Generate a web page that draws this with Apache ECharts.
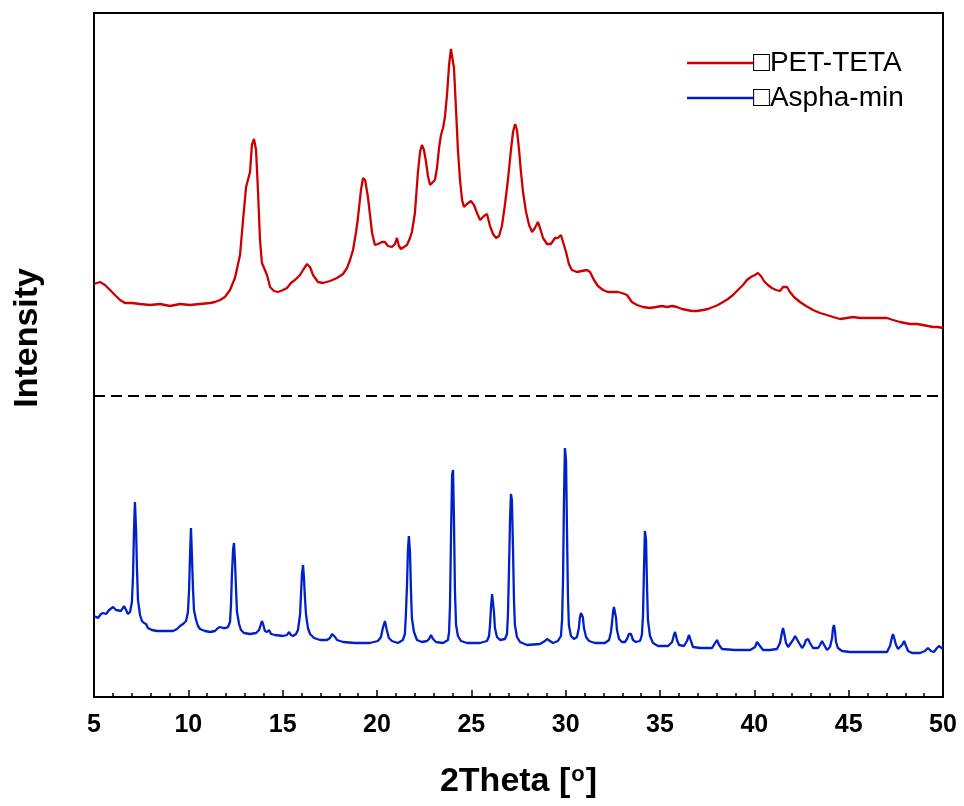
<!DOCTYPE html>
<html>
<head>
<meta charset="utf-8">
<script src="https://cdn.jsdelivr.net/npm/echarts@6/dist/echarts.min.js"></script>
<style>
  html, body { margin: 0; padding: 0; background: #fff; }
  #chart { width: 964px; height: 806px; }
</style>
</head>
<body>
<div id="chart"></div>
<script>
// XRD patterns: [2theta (deg), intensity (a.u., offset)]
const petTeta = [
  [5.00,413],[5.32,415],[5.58,412],[5.85,407],[6.11,402],[6.38,397],[6.64,394],[7.01,394],
  [7.44,393],[7.97,392],[8.50,393],[9.03,391],[9.56,393],[10.09,392],[10.62,393],[11.15,394],
  [11.41,395],[11.68,397],[11.94,400],[12.21,407],[12.47,419],[12.74,442],[12.90,477],[13.06,510],
  [13.16,509],[13.27,525],[13.37,552],[13.48,558],[13.59,547],[13.69,507],[13.80,457],[13.90,434],
  [14.06,427],[14.17,422],[14.33,410],[14.54,406],[14.75,405],[15.02,407],[15.23,409],[15.44,414],
  [15.65,417],[15.92,422],[16.08,427],[16.29,433],[16.45,430],[16.61,422],[16.87,415],[17.14,414],
  [17.51,416],[17.88,419],[18.20,423],[18.41,429],[18.57,437],[18.73,447],[18.89,465],[18.99,479],
  [19.15,507],[19.26,519],[19.37,517],[19.52,500],[19.63,482],[19.74,464],[19.89,452],[20.05,453],
  [20.26,455],[20.42,455],[20.58,451],[20.79,450],[20.95,453],[21.06,459],[21.16,451],[21.27,448],
  [21.43,450],[21.59,452],[21.75,459],[21.85,465],[22.01,484],[22.17,525],[22.28,545],[22.38,552],
  [22.49,547],[22.60,535],[22.70,521],[22.81,512],[22.91,511],[23.07,517],[23.18,529],[23.29,549],
  [23.39,562],[23.50,569],[23.60,580],[23.71,602],[23.82,632],[23.92,648],[23.98,647],[24.08,629],
  [24.19,587],[24.29,547],[24.40,517],[24.51,497],[24.61,490],[24.77,493],[24.98,496],[25.14,492],
  [25.30,484],[25.46,477],[25.67,481],[25.83,483],[25.99,471],[26.15,463],[26.31,459],[26.47,461],
  [26.62,471],[26.78,492],[26.94,517],[27.10,547],[27.21,565],[27.32,573],[27.42,567],[27.53,547],
  [27.63,525],[27.74,505],[27.90,485],[28.06,472],[28.22,465],[28.37,469],[28.53,475],[28.64,469],
  [28.80,459],[29.01,453],[29.22,453],[29.43,459],[29.59,459],[29.75,462],[29.86,455],[30.02,445],
  [30.17,433],[30.33,427],[30.60,425],[30.86,426],[31.13,427],[31.29,425],[31.50,417],[31.71,411],
  [31.98,407],[32.24,405],[32.51,405],[32.77,405],[32.98,404],[33.25,402],[33.51,395],[33.78,392],
  [34.10,390],[34.47,389],[34.79,390],[35.10,391],[35.37,390],[35.63,391],[35.90,390],[36.16,388],
  [36.43,387],[36.69,386],[36.96,386],[37.28,387],[37.54,388],[37.81,390],[38.07,392],[38.34,395],
  [38.60,398],[38.87,402],[39.13,407],[39.40,412],[39.61,417],[39.82,420],[40.03,422],[40.19,424],
  [40.35,421],[40.51,416],[40.72,412],[40.93,409],[41.15,407],[41.36,406],[41.52,410],[41.62,412],
  [41.73,410],[41.89,405],[42.10,400],[42.42,395],[42.74,391],[43.11,387],[43.48,384],[43.85,382],
  [44.17,380],[44.54,378],[44.91,379],[45.23,380],[45.60,379],[45.97,379],[46.29,379],[46.66,379],
  [47.03,379],[47.35,377],[47.72,375],[47.98,374],[48.25,373],[48.62,373],[48.94,372],[49.20,371],
  [49.47,370],[49.73,370],[50.00,369]
];

const asphaMin = [
  [5.00,81],[5.21,79],[5.37,83],[5.48,84],[5.64,83],[5.80,87],[6.01,90],[6.17,87],[6.27,85],
  [6.43,86],[6.59,91],[6.70,87],[6.80,83],[6.91,85],[7.01,95],[7.07,122],[7.12,167],[7.17,195],
  [7.23,167],[7.28,127],[7.33,97],[7.44,82],[7.54,76],[7.65,74],[7.76,73],[7.86,69],[8.07,67],
  [8.34,66],[8.76,66],[9.19,66],[9.40,68],[9.56,71],[9.72,73],[9.88,76],[9.98,85],[10.04,107],
  [10.09,142],[10.14,169],[10.19,142],[10.25,107],[10.30,87],[10.41,77],[10.51,71],[10.62,68],
  [10.88,66],[11.15,65],[11.41,66],[11.57,69],[11.68,70],[11.84,69],[11.99,69],[12.10,70],
  [12.21,75],[12.26,92],[12.31,122],[12.37,147],[12.42,154],[12.47,137],[12.53,107],[12.58,85],
  [12.69,73],[12.79,67],[12.95,64],[13.27,63],[13.59,64],[13.75,67],[13.85,73],[13.90,76],
  [13.96,73],[14.06,66],[14.17,65],[14.28,67],[14.38,63],[14.59,62],[15.02,61],[15.23,62],
  [15.33,65],[15.44,62],[15.55,61],[15.71,63],[15.81,67],[15.92,82],[15.97,102],[16.02,122],
  [16.08,132],[16.13,119],[16.18,99],[16.24,82],[16.34,69],[16.45,63],[16.66,59],[16.98,57],
  [17.35,57],[17.51,59],[17.62,63],[17.67,64],[17.78,60],[17.88,57],[18.20,55],[18.83,54],
  [19.62,54],[20.05,56],[20.21,60],[20.31,69],[20.42,76],[20.52,67],[20.63,59],[20.79,56],
  [21.11,54],[21.37,57],[21.48,63],[21.53,82],[21.59,112],[21.64,147],[21.69,161],[21.75,145],
  [21.80,107],[21.85,79],[21.96,65],[22.12,57],[22.38,55],[22.65,56],[22.76,58],[22.86,62],
  [22.97,58],[23.13,55],[23.50,54],[23.76,57],[23.82,65],[23.87,92],[23.92,157],[23.98,222],
  [24.03,227],[24.08,177],[24.13,107],[24.19,72],[24.29,61],[24.45,56],[24.77,54],[25.46,54],
  [25.83,56],[25.94,61],[25.99,72],[26.04,89],[26.10,103],[26.15,102],[26.20,85],[26.25,69],
  [26.36,60],[26.52,57],[26.78,58],[26.89,63],[26.94,82],[26.99,122],[27.05,177],[27.10,203],
  [27.15,197],[27.21,147],[27.26,97],[27.31,72],[27.42,60],[27.58,55],[27.95,52],[28.64,53],
  [28.90,56],[29.01,58],[29.06,59],[29.17,56],[29.33,54],[29.59,56],[29.75,61],[29.81,77],
  [29.86,117],[29.91,197],[29.96,249],[30.02,237],[30.07,167],[30.12,102],[30.17,72],[30.28,61],
  [30.44,58],[30.60,60],[30.70,69],[30.75,79],[30.81,84],[30.86,85],[30.91,80],[30.97,69],
  [31.08,60],[31.24,56],[31.55,54],[32.08,54],[32.30,57],[32.40,65],[32.46,75],[32.51,85],
  [32.56,90],[32.61,89],[32.67,79],[32.72,67],[32.83,58],[32.98,55],[33.14,55],[33.25,58],
  [33.35,63],[33.41,65],[33.46,63],[33.57,57],[33.72,55],[33.94,56],[34.04,62],[34.10,82],
  [34.15,127],[34.20,166],[34.26,157],[34.31,112],[34.36,77],[34.47,61],[34.63,54],[34.90,51],
  [35.43,51],[35.64,55],[35.74,62],[35.80,65],[35.90,57],[36.01,52],[36.27,51],[36.43,56],
  [36.54,62],[36.64,56],[36.75,50],[37.12,49],[37.76,49],[37.92,54],[38.02,57],[38.13,52],
  [38.29,48],[38.98,47],[39.78,47],[40.04,50],[40.14,55],[40.20,56],[40.30,51],[40.46,47],
  [40.83,47],[41.20,48],[41.36,54],[41.47,65],[41.52,69],[41.57,65],[41.68,54],[41.79,50],
  [41.89,52],[42.05,57],[42.16,61],[42.26,61],[42.37,54],[42.53,49],[42.64,52],[42.74,57],
  [42.85,58],[42.95,54],[43.11,49],[43.38,49],[43.48,52],[43.59,56],[43.70,52],[43.85,47],
  [44.01,50],[44.12,59],[44.17,69],[44.22,72],[44.28,65],[44.33,55],[44.43,49],[44.65,46],
  [45.07,45],[46.13,45],[47.03,45],[47.19,51],[47.30,60],[47.35,63],[47.40,60],[47.51,52],
  [47.62,48],[47.72,47],[47.83,52],[47.94,56],[48.04,51],[48.15,46],[48.36,44],[48.78,44],
  [49.05,46],[49.20,49],[49.36,46],[49.52,45],[49.68,49],[49.79,51],[49.89,50],[50.00,48]
];

// separator between the two stacked patterns
const separatorLevel = 301;

const seriesNames = ['\u25A1PET-TETA', '\u25A1Aspha-min'];
const seriesColors = ['#cc0000', '#0020c8'];

const chart = echarts.init(document.getElementById('chart'), null, { renderer: 'canvas' });

const font = '"Liberation Sans", Arial, sans-serif';

chart.setOption({
  animation: false,
  backgroundColor: '#fff',
  grid: {
    left: 94, right: 21, top: 13, bottom: 109,
    show: true, borderColor: '#000', borderWidth: 2, backgroundColor: 'transparent'
  },
  legend: {
    orient: 'vertical',
    left: 682, top: 44,
    itemWidth: 66, itemHeight: 2.5, itemGap: 7,
    icon: 'rect',
    textStyle: { fontFamily: font, fontSize: 28, color: '#000', padding: [0, 0, 0, -5] },
    data: seriesNames
  },
  xAxis: {
    type: 'value',
    min: 5, max: 50, interval: 5,
    axisLine: { show: true, lineStyle: { color: '#000', width: 2 } },
    axisTick: { show: true, inside: true, length: 7, lineStyle: { color: '#000', width: 1.5 } },
    minorTick: { show: true, splitNumber: 5, length: 4, lineStyle: { color: '#000', width: 1.5 } },
    splitLine: { show: false },
    axisLabel: { fontFamily: font, fontWeight: 'bold', fontSize: 25, color: '#000', margin: 16 },
    name: '2Theta [{s|o}]',
    nameLocation: 'middle',
    nameGap: 67,
    nameTextStyle: {
      fontFamily: font, fontWeight: 'bold', fontSize: 34, color: '#000',
      rich: { s: { fontFamily: font, fontWeight: 'bold', fontSize: 22, color: '#000', padding: [0, 1, 13, 1] } }
    }
  },
  yAxis: {
    type: 'value',
    min: 0, max: 684,
    axisLine: { show: true, lineStyle: { color: '#000', width: 2 } },
    axisTick: { show: false },
    axisLabel: { show: false },
    splitLine: { show: false }
  },
  graphic: [{
    type: 'text',
    left: 11, top: 268,
    rotation: Math.PI / 2,
    style: {
      text: 'Intensity',
      font: 'bold 34px ' + font,
      fill: '#000'
    }
  }],
  series: [
    {
      name: seriesNames[0],
      type: 'line',
      data: petTeta,
      symbol: 'none',
      color: seriesColors[0],
      lineStyle: { width: 2.3, color: seriesColors[0] },
      markLine: {
        silent: true,
        symbol: 'none',
        label: { show: false },
        lineStyle: { color: '#000', width: 2.2, type: [11, 6] },
        data: [{ yAxis: separatorLevel }]
      }
    },
    {
      name: seriesNames[1],
      type: 'line',
      data: asphaMin,
      symbol: 'none',
      color: seriesColors[1],
      lineStyle: { width: 2.3, color: seriesColors[1] }
    }
  ]
});
</script>
</body>
</html>
